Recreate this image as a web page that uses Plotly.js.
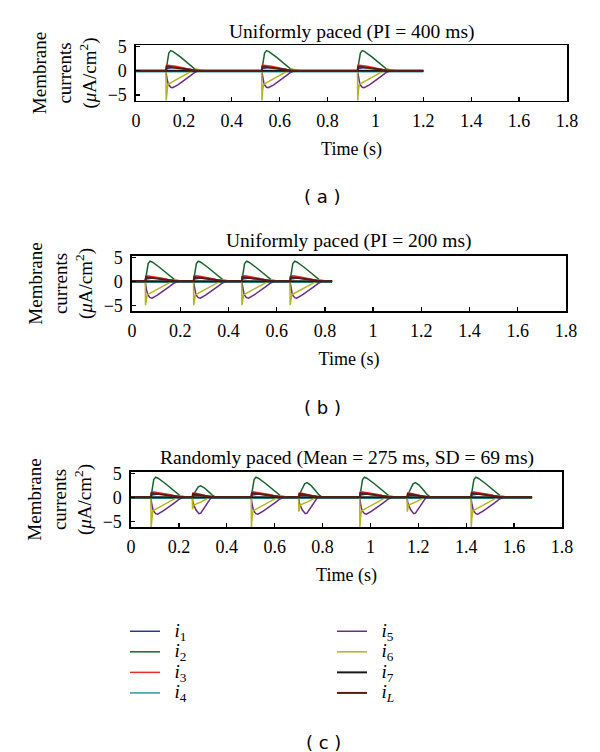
<!DOCTYPE html>
<html>
<head>
<meta charset="utf-8">
<script src="https://cdn.plot.ly/plotly-3.0.1.min.js"></script>
<style>html,body{margin:0;padding:0;background:#fff;}#chart{width:600px;height:752px;}</style>
</head>
<body>
<div id="chart"></div>
<script>
// ---------- data ----------
const currentNames = ["i1", "i2", "i3", "i4", "i5", "i6", "i7", "iL"];
const currentLabels = ["<i>i</i><sub>1</sub>", "<i>i</i><sub>2</sub>", "<i>i</i><sub>3</sub>", "<i>i</i><sub>4</sub>",
                       "<i>i</i><sub>5</sub>", "<i>i</i><sub>6</sub>", "<i>i</i><sub>7</sub>", "<i>i</i><sub><i>L</i></sub>"];
const currentColors = ["#1c3c8c", "#17652c", "#e8302a", "#2a9c9c", "#6a2a86", "#b4b41e", "#1a1a1a", "#5a1c12"];
const legendColumn = ["legend", "legend", "legend", "legend", "legend2", "legend2", "legend2", "legend2"];

// beat onsets (s) and end of simulation for each panel
const onsetsA = [0.125, 0.525, 0.925];
const endA = 1.2;
const onsetsB = [0.055, 0.255, 0.455, 0.655];
const endB = 0.83;
const onsetsC = [0.083, 0.256, 0.502, 0.700, 0.955, 1.153, 1.420];
const endC = 1.675;

// beat kind: L = fully recovered beat, S = beat after short interval
const kindsA = ["L", "L", "L"];
const kindsB = ["L", "L", "L", "L"];
const kindsC = ["L", "S", "L", "S", "L", "S", "L"];

// i6 stimulus spike depth per beat and i2 peak gain per beat
const spikeA = [-6.2, -6.2, -6.2];
const spikeB = [-5.0, -5.0, -5.0, -5.0];
const spikeC = [-6.2, -2.5, -6.2, -3.0, -6.2, -3.0, -6.2];
const gainA = [1, 1, 1];
const gainB = [1, 1, 1, 1];
const gainC = [1, 1, 1, 1.28, 1, 1.28, 1];

// constant currents (µA/cm²)
const i4Level = [-0.2];
const i7Level = [0];

// waveforms after stimulus: time offset (s) and value (µA/cm²)
const longT_i1 = [0, 0.004, 0.03, 0.06, 0.09, 0.12, 0.145];
const longV_i1 = [0, 0.5, 0.7, 0.6, 0.4, 0.12, 0];
const longT_i2 = [0, 0.005, 0.012, 0.02, 0.03, 0.06, 0.09, 0.11, 0.125, 0.14, 0.16];
const longV_i2 = [0, 1.5, 3.7, 4.2, 4.0, 2.9, 1.6, 0.7, 0.2, 0.03, 0];
const longT_i3 = [0, 0.003, 0.02, 0.04, 0.07, 0.1, 0.12, 0.14];
const longV_i3 = [0, 1.2, 1.1, 0.95, 0.65, 0.3, 0.08, 0];
const longT_i5 = [0, 0.004, 0.01, 0.02, 0.028, 0.05, 0.08, 0.1, 0.12, 0.135];
const longV_i5 = [0, -1.5, -2.8, -3.4, -3.5, -2.9, -1.9, -1.1, -0.35, 0];
const longT_i6 = [0, 0.004, 0.008, 0.015, 0.03, 0.06, 0.09, 0.11, 0.125, 0.14, 0.16];
const longV_i6 = [0, -4, -2.8, -2.6, -2.2, -1.4, -0.5, 0.1, 0.4, 0.2, 0];
const longT_iL = [0, 0.003, 0.02, 0.06, 0.1, 0.13];
const longV_iL = [0, 0.9, 0.8, 0.5, 0.2, 0];

const shortT_i1 = [0, 0.005, 0.03, 0.06, 0.09, 0.1];
const shortV_i1 = [0, 0.4, 0.5, 0.25, 0.03, 0];
const shortT_i2 = [0, 0.01, 0.025, 0.035, 0.05, 0.07, 0.085, 0.1];
const shortV_i2 = [0, 1.0, 2.2, 2.4, 2.0, 1.1, 0.4, 0];
const shortT_i3 = [0, 0.003, 0.02, 0.05, 0.08, 0.1];
const shortV_i3 = [0, 0.9, 0.8, 0.4, 0.05, 0];
const shortT_i5 = [0, 0.003, 0.015, 0.028, 0.035, 0.05, 0.065, 0.078, 0.09];
const shortV_i5 = [0, -1.2, -2.6, -3.4, -3.3, -2.2, -0.9, -0.1, 0];
const shortT_i6 = [0, 0.006, 0.02, 0.04, 0.06, 0.075, 0.09, 0.1];
const shortV_i6 = [0, -1.6, -1.3, -0.9, -0.3, 0.2, 0.1, 0];
const shortT_iL = [0, 0.003, 0.03, 0.07, 0.09];
const shortV_iL = [0, 0.7, 0.5, 0.1, 0];

const panelTitles = ["Uniformly paced (PI = 400 ms)", "Uniformly paced (PI = 200 ms)",
                     "Randomly paced (Mean = 275 ms, SD = 69 ms)"];
const panelTags = ["( a )", "( b )", "( c )"];
const xTickVals = [0, 0.2, 0.4, 0.6, 0.8, 1, 1.2, 1.4, 1.6, 1.8];
const yTickVals = [-5, 0, 5];

// ---------- build ----------
const templates = {
  L: {i1: [longT_i1, longV_i1], i2: [longT_i2, longV_i2], i3: [longT_i3, longV_i3],
      i5: [longT_i5, longV_i5], i6: [longT_i6, longV_i6], iL: [longT_iL, longV_iL]},
  S: {i1: [shortT_i1, shortV_i1], i2: [shortT_i2, shortV_i2], i3: [shortT_i3, shortV_i3],
      i5: [shortT_i5, shortV_i5], i6: [shortT_i6, shortV_i6], iL: [shortT_iL, shortV_iL]}
};

const panels = [
  {onsets: onsetsA, end: endA, kinds: kindsA, spike: spikeA, gain: gainA},
  {onsets: onsetsB, end: endB, kinds: kindsB, spike: spikeB, gain: gainB},
  {onsets: onsetsC, end: endC, kinds: kindsC, spike: spikeC, gain: gainC}
];

function series(name, p) {
  if (name === "i4") return {x: [0, p.end], y: [i4Level[0], i4Level[0]]};
  if (name === "i7") return {x: [0, p.end], y: [i7Level[0], i7Level[0]]};
  const x = [0], y = [0];
  p.onsets.forEach((t0, b) => {
    const [tt, vv] = templates[p.kinds[b]][name];
    tt.forEach((dt, j) => {
      x.push(t0 + dt);
      y.push(name === "i2" ? vv[j] * p.gain[b] : vv[j]);
      if (name === "i6" && j === 0) { x.push(t0 + 0.001); y.push(p.spike[b]); }
    });
  });
  x.push(p.end); y.push(0);
  return {x, y};
}

const traces = [];
panels.forEach((p, k) => {
  const sfx = k === 0 ? "" : String(k + 1);
  currentNames.forEach((name, c) => {
    const s = series(name, p);
    traces.push({
      type: "scatter", mode: "lines", x: s.x, y: s.y,
      xaxis: "x" + sfx, yaxis: "y" + sfx,
      name: '<span style="font-size:19px">&nbsp;&nbsp;' + currentLabels[c] + '</span>',
      showlegend: k === 0, legend: legendColumn[c],
      line: {color: currentColors[c], width: (name === "i7" || name === "iL") ? 2 : 1.5},
      hoverinfo: "skip"
    });
  });
});

const H = 752, W = 600;
const serif = "Liberation Serif, Times New Roman, serif";
const boxes = [
  {x0: 136, x1: 567, y0: 45.3, y1: 100.7},
  {x0: 132, x1: 566, y0: 256, y1: 311},
  {x0: 131, x1: 562, y0: 472, y1: 527}
];
const titleY = [32, 241, 458];
const tagY = [196, 408, 742];
const tagX = [322, 322, 323];

const legendCommon = {
  orientation: "v", xanchor: "left", yanchor: "top", y: 1 - 616 / H,
  font: {family: serif, size: 13.5, color: "#000"}, itemwidth: 30, bgcolor: "rgba(0,0,0,0)",
  borderwidth: 0, tracegroupgap: 0
};

const layout = {
  width: W, height: H, margin: {l: 0, r: 0, t: 0, b: 0},
  paper_bgcolor: "#fff", plot_bgcolor: "#fff",
  font: {family: serif, size: 18, color: "#000"},
  showlegend: true,
  legend: Object.assign({x: 125 / W}, legendCommon),
  legend2: Object.assign({x: 332 / W}, legendCommon),
  annotations: [],
  hovermode: false
};

boxes.forEach((bx, k) => {
  const sfx = k === 0 ? "" : String(k + 1);
  layout["xaxis" + sfx] = {
    domain: [bx.x0 / W, bx.x1 / W], anchor: "y" + sfx, range: [0, 1.8],
    tickvals: xTickVals, ticks: "inside", ticklen: 4, tickwidth: 1.3, tickcolor: "#000",
    showline: true, mirror: true, linecolor: "#000", linewidth: 1.6,
    showgrid: false, zeroline: false, ticklabelstandoff: 3,
    tickfont: {family: serif, size: 18, color: "#000"},
    title: {text: "Time (s)", font: {family: serif, size: 18, color: "#000"}, standoff: 12}
  };
  layout["yaxis" + sfx] = {
    domain: [1 - bx.y1 / H, 1 - bx.y0 / H], anchor: "x" + sfx, range: [-6.2, 5.3],
    tickvals: yTickVals, ticks: "inside", ticklen: 4, tickwidth: 1.3, tickcolor: "#000",
    showline: true, mirror: true, linecolor: "#000", linewidth: 1.6,
    showgrid: false, zeroline: false, ticklabelstandoff: 4,
    tickfont: {family: serif, size: 18, color: "#000"},
    title: {text: "Membrane<br>currents<br>(<i>μ</i>A/cm<sup>2</sup>)",
            font: {family: serif, size: 19, color: "#000"}, standoff: 6}
  };
  layout.annotations.push({
    xref: "paper", yref: "paper", x: ((bx.x0 + bx.x1) / 2) / W, y: 1 - titleY[k] / H,
    xanchor: "center", yanchor: "middle", showarrow: false, text: panelTitles[k],
    font: {family: serif, size: 19.5, color: "#000"}
  });
  layout.annotations.push({
    xref: "paper", yref: "paper", x: tagX[k] / W, y: 1 - tagY[k] / H,
    xanchor: "center", yanchor: "middle", showarrow: false, text: panelTags[k],
    font: {family: "DejaVu Sans, sans-serif", size: 18, color: "#000"}
  });
});

Plotly.newPlot("chart", traces, layout, {staticPlot: true, displayModeBar: false});
</script>
</body>
</html>
